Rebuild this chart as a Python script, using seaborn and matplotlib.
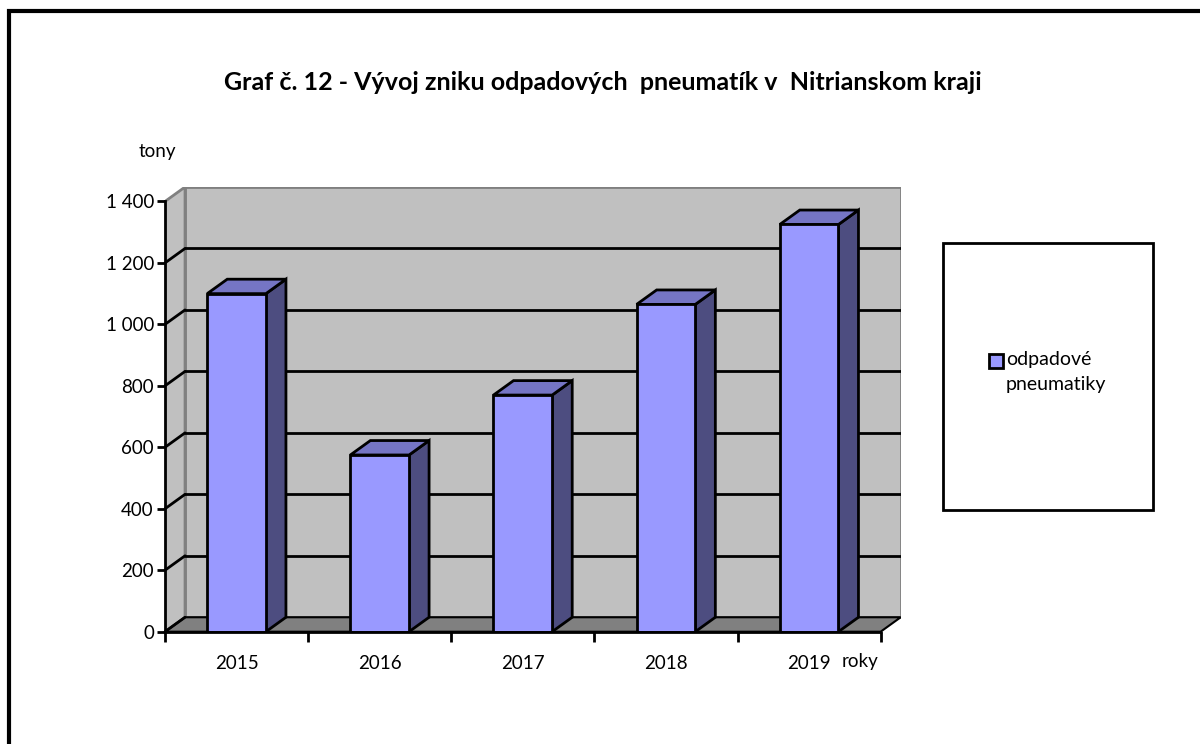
import matplotlib
matplotlib.use("Agg")
import matplotlib.pyplot as plt
from matplotlib.patches import Polygon, Rectangle
import seaborn as sns
import pandas as pd

# data
years = ["2015", "2016", "2017", "2018", "2019"]
tons = [1100, 575, 770, 1065, 1325]
y_ticks = [0, 200, 400, 600, 800, 1000, 1200, 1400]

title = "Graf č. 12 - Vývoj zniku odpadových  pneumatík v  Nitrianskom kraji"
series_name = "odpadové\npneumatiky"

FRONT = "#9999FF"
SIDE = "#4D4D80"
TOP = "#7575C4"
WALL = "#C0C0C0"
FLOOR = "#808080"

# fake 3D depth (data units)
DX = 0.14
DY = 47

sns.set_theme(style="white")
plt.rcParams["font.family"] = ["Lato", "DejaVu Sans"]
plt.rcParams["text.color"] = "black"
plt.rcParams["xtick.labelcolor"] = "black"
plt.rcParams["ytick.labelcolor"] = "black"

df = pd.DataFrame({"rok": years, "tony": tons})

fig = plt.figure(figsize=(12, 7.44), dpi=100)
ax = fig.add_axes([165 / 1200, (744 - 631.7) / 744, 735.7 / 1200, 444.7 / 744])
ax.set_facecolor("none")

sns.barplot(data=df, x="rok", y="tony", color=FRONT, width=0.41,
            edgecolor="black", linewidth=2, saturation=1, ax=ax, zorder=4)

n = len(years)
x0, x1 = -0.5, n - 0.5
top_val = y_ticks[-1]

# back wall, side wall, floor
ax.add_patch(Rectangle((x0 + DX, DY), x1 - x0, top_val, facecolor=WALL,
                       edgecolor=FLOOR, linewidth=2, zorder=0))
ax.add_patch(Polygon([(x0, 0), (x0, top_val), (x0 + DX, top_val + DY), (x0 + DX, DY)],
                     closed=True, facecolor=WALL, edgecolor=FLOOR, linewidth=2, zorder=0))
ax.add_patch(Polygon([(x0, 0), (x1, 0), (x1 + DX, DY), (x0 + DX, DY)],
                     closed=True, facecolor=FLOOR, edgecolor="black", linewidth=1.5, zorder=1))

# gridlines on back + side wall
for v in y_ticks[1:-1]:
    ax.plot([x0 + DX, x1 + DX], [v + DY, v + DY], color="black", lw=2, zorder=1)
for v in y_ticks[:-1]:
    ax.plot([x0, x0 + DX], [v, v + DY], color="black", lw=2, zorder=1, clip_on=False)

# side and top faces of the bars
for p in ax.patches[:n]:
    bx, bw, bh = p.get_x(), p.get_width(), p.get_height()
    ax.add_patch(Polygon([(bx + bw, 0), (bx + bw, bh), (bx + bw + DX, bh + DY), (bx + bw + DX, DY)],
                         closed=True, facecolor=SIDE, edgecolor="black", linewidth=2, zorder=3))
    ax.add_patch(Polygon([(bx, bh), (bx + bw, bh), (bx + bw + DX, bh + DY), (bx + DX, bh + DY)],
                         closed=True, facecolor=TOP, edgecolor="black", linewidth=2, zorder=3))

# front x axis line with category separators
ax.plot([x0, x1], [0, 0], color="black", lw=2, zorder=5, clip_on=False)
ax.set_xticks([i - 0.5 for i in range(n + 1)], minor=True)
ax.tick_params(axis="x", which="minor", length=7, width=2, color="black", bottom=True)
ax.tick_params(axis="x", which="major", length=0, pad=17, labelsize=13.5)

ax.set_xlim(x0, x1 + DX)
ax.set_ylim(0, top_val + DY)
ax.set_yticks(y_ticks)
ax.set_yticklabels([f"{v:,}".replace(",", " ") for v in y_ticks])
ax.tick_params(axis="y", length=6, width=2, color="black", left=True, pad=2, labelsize=13.5)

for s in ["top", "right", "bottom"]:
    ax.spines[s].set_visible(False)
ax.spines["left"].set_color("black")
ax.spines["left"].set_linewidth(2)
ax.spines["left"].set_bounds(0, top_val)
ax.spines["left"].set_zorder(5)
ax.set_xlabel("")
ax.set_ylabel("")

fig.text(157 / 1200, 1 - 152 / 744, "tony", ha="center", va="center", fontsize=13.5)
fig.text(860 / 1200, 1 - 662 / 744, "roky", ha="center", va="center", fontsize=13.5)
fig.text(603 / 1200, 1 - 82 / 744, title, ha="center", va="center",
         fontsize=18, fontweight="bold")

# legend box with marker and label
fig.patches.append(Rectangle((942.7 / 1200, 1 - 510 / 744), 210 / 1200, 266.7 / 744,
                             transform=fig.transFigure, facecolor="white",
                             edgecolor="black", linewidth=2, zorder=0))
fig.patches.append(Rectangle((988.5 / 1200, 1 - 368 / 744), 14 / 1200, 14 / 744,
                             transform=fig.transFigure, facecolor=FRONT,
                             edgecolor="black", linewidth=2, zorder=1))
fig.text(1006 / 1200, 1 - 351 / 744, series_name, ha="left", va="top",
         fontsize=14, linespacing=1.55)

# outer frame of the chart area
fig.patches.append(Rectangle((8.5 / 1200, -0.1), 1.2, 1 - 11 / 744 + 0.1,
                             transform=fig.transFigure, facecolor="none",
                             edgecolor="black", linewidth=3, zorder=10))

fig.savefig("out.png", dpi=100)
